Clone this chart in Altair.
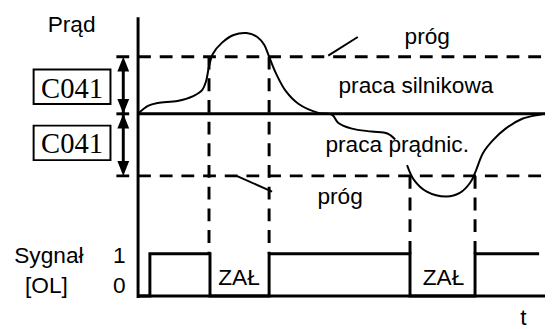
import altair as alt
import pandas as pd

# ---- data (diagram coordinates, y grows downward) ----
curve_x = [140, 150, 160, 180, 196, 205, 209, 212, 216, 225, 237, 250, 261, 268, 273, 280, 290, 303, 323, 337, 343, 357, 377, 393, 401,
           413, 420, 433, 453, 467, 477, 482, 490, 500, 513, 530, 547, 553]
curve_y = [113, 105, 102, 100, 95, 89, 80, 65, 52, 41, 33, 31, 35, 43, 55, 72, 90, 103, 112, 114, 122, 128, 131, 133, 139,
           165, 180, 192, 197, 193, 183, 173, 153, 140, 128, 118, 114, 113]
curve_seg = [0] * 25 + [1] * 13

solid_id = ["axis", "axis", "zero", "zero", "base", "base"]
solid_x = [140, 140, 140, 553, 140, 553]
solid_y = [15, 300, 113, 113, 298, 298]

signal_x = [140, 152, 152, 213, 213, 273, 273, 416, 416, 482, 482, 547]
signal_y = [298, 298, 255, 255, 298, 298, 255, 255, 298, 298, 255, 255]

dash_x1 = [118, 118, 118, 212, 273, 416, 482]
dash_x2 = [553, 553, 140, 212, 273, 416, 482]
dash_y1 = [55, 176, 113, 55, 55, 176, 176]
dash_y2 = [55, 176, 113, 255, 255, 255, 255]

leader_x1 = [333, 240, 125]
leader_x2 = [363, 276, 125]
leader_y1 = [54, 176, 60]
leader_y2 = [35, 192, 170]

box_x1 = [34, 34]
box_x2 = [112, 112]
box_y1 = [68, 125]
box_y2 = [103, 160]

head_x = [125, 125, 125, 125]
head_y = [62.5, 105.5, 120.5, 168.5]
head_dir = ["up", "down", "up", "down"]

sans_text = ["Prąd", "próg", "praca silnikowa", "praca prądnic.", "próg", "Sygnał", "[OL]", "1", "0", "ZAŁ", "ZAŁ", "t"]
sans_x = [72.5, 433.5, 422, 403, 345, 49.5, 47, 121, 121, 242.5, 450, 531]
sans_y = [30, 42, 92, 152, 205, 264, 295, 264, 295, 287, 287, 327]

serif_text = ["C041", "C041"]
serif_x = [73, 73]
serif_y = [97, 153]

# ---- build ----
xs = alt.Scale(domain=[8, 553], nice=False, zero=False)
ys = alt.Scale(domain=[8, 329], nice=False, zero=False, reverse=True)
X = lambda f: alt.X(f, type="quantitative", scale=xs, axis=None)
Y = lambda f: alt.Y(f, type="quantitative", scale=ys, axis=None)

curve_df = pd.DataFrame({"x": curve_x, "y": curve_y, "seg": curve_seg, "i": range(len(curve_x))})
curve = alt.Chart(curve_df).mark_line(color="black", strokeWidth=2, interpolate="catmull-rom").encode(
    x=X("x"), y=Y("y"), detail="seg:N", order="i:Q")

solid_df = pd.DataFrame({"x": solid_x, "y": solid_y, "id": solid_id, "i": range(len(solid_x))})
solid = alt.Chart(solid_df).mark_line(color="black", strokeWidth=3).encode(
    x=X("x"), y=Y("y"), detail="id:N", order="i:Q")

sig_df = pd.DataFrame({"x": signal_x, "y": signal_y, "i": range(len(signal_x))})
signal = alt.Chart(sig_df).mark_line(color="black", strokeWidth=3, strokeJoin="miter").encode(
    x=X("x"), y=Y("y"), order="i:Q")

dash_df = pd.DataFrame({"x": dash_x1, "x2": dash_x2, "y": dash_y1, "y2": dash_y2})
dashes = alt.Chart(dash_df).mark_rule(color="black", strokeWidth=3, strokeDash=[13, 9]).encode(
    x=X("x"), x2="x2", y=Y("y"), y2="y2")

lead_df = pd.DataFrame({"x": leader_x1, "x2": leader_x2, "y": leader_y1, "y2": leader_y2})
leaders = alt.Chart(lead_df.iloc[[0, 1]]).mark_rule(color="black", strokeWidth=2).encode(
    x=X("x"), x2="x2", y=Y("y"), y2="y2")
arrow_shaft = alt.Chart(lead_df.iloc[[2]]).mark_rule(color="black", strokeWidth=3).encode(
    x=X("x"), x2="x2", y=Y("y"), y2="y2")

box_df = pd.DataFrame({"x": box_x1, "x2": box_x2, "y": box_y1, "y2": box_y2})
boxes = alt.Chart(box_df).mark_rect(fill="white", stroke="black", strokeWidth=2).encode(
    x=X("x"), x2="x2", y=Y("y"), y2="y2")

head_df = pd.DataFrame({"x": head_x, "y": head_y, "dir": head_dir})
heads = alt.Chart(head_df).mark_point(filled=True, color="black", size=225, opacity=1).encode(
    x=X("x"), y=Y("y"),
    shape=alt.Shape("dir:N", scale=alt.Scale(domain=["up", "down"],
                                             range=["M0,-1L-0.8,1L0.8,1Z", "M0,1L-0.8,-1L0.8,-1Z"]),
                    legend=None))

sans_df = pd.DataFrame({"x": sans_x, "y": sans_y, "t": sans_text})
sans = alt.Chart(sans_df).mark_text(font="Liberation Sans", fontSize=23, color="black",
                                    align="center", baseline="alphabetic").encode(
    x=X("x"), y=Y("y"), text="t:N")

serif_df = pd.DataFrame({"x": serif_x, "y": serif_y, "t": serif_text})
serif = alt.Chart(serif_df).mark_text(font="Liberation Serif", fontSize=29, color="black",
                                      align="center", baseline="alphabetic").encode(
    x=X("x"), y=Y("y"), text="t:N")

chart = alt.layer(dashes, solid, signal, curve, leaders, arrow_shaft, heads, boxes, serif, sans).properties(
    width=545, height=321, padding=0, autosize=alt.AutoSizeParams(type="none"),
    background="white"
).configure_view(stroke=None)

chart.save("out.html", embed_options={"renderer": "svg", "actions": False})
